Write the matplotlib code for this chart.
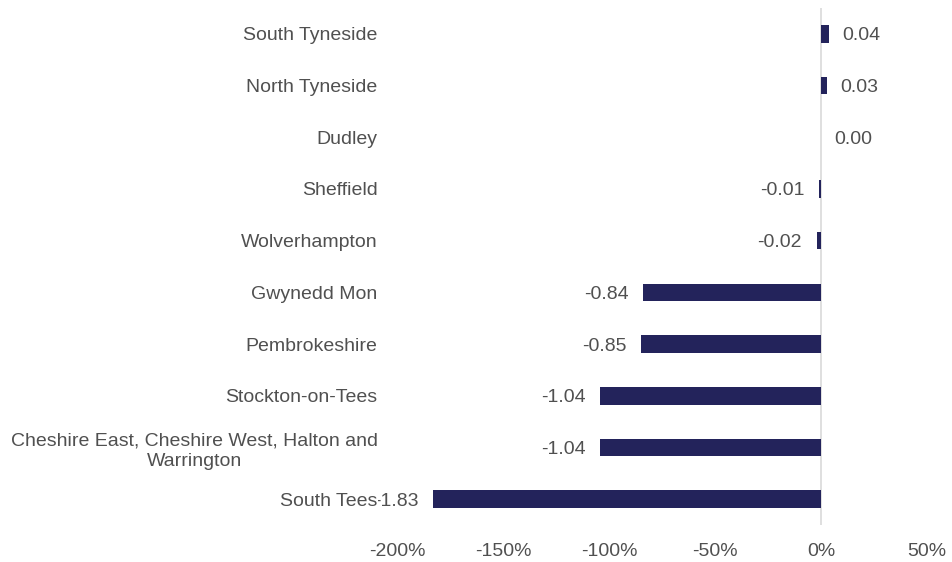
import matplotlib.pyplot as plt
from matplotlib.ticker import PercentFormatter

plt.rcParams['font.family'] = ['Liberation Sans', 'DejaVu Sans']
plt.rcParams['axes.unicode_minus'] = False

areas = [
    'South Tyneside',
    'North Tyneside',
    'Dudley',
    'Sheffield',
    'Wolverhampton',
    'Gwynedd Mon',
    'Pembrokeshire',
    'Stockton-on-Tees',
    'Cheshire East, Cheshire West, Halton and\nWarrington',
    'South Tees',
]
change = [0.04, 0.03, 0.00, -0.01, -0.02, -0.84, -0.85, -1.04, -1.04, -1.83]

bar_color = '#23235b'
text_color = '#505050'
fs = 14

fig = plt.figure(figsize=(9.53, 5.62), dpi=100)
ax = fig.add_axes([0.4166, 0.0658, 0.556, 0.92])

y = list(range(len(areas)))
ax.barh(y, change, height=0.34, color=bar_color, zorder=2)
ax.axvline(0, color='#d9d9d9', linewidth=1.2, zorder=1)

for yi, v in zip(y, change):
    if v < 0:
        ax.annotate(f'{v:.2f}', (v, yi), xytext=(-10.5, 0), textcoords='offset points',
                    ha='right', va='center_baseline', fontsize=fs, color=text_color, zorder=1)
    else:
        ax.annotate(f'{v:.2f}', (v, yi), xytext=(9.5, 0), textcoords='offset points',
                    ha='left', va='center_baseline', fontsize=fs, color=text_color, zorder=1)

ax.set_xlim(-2, 0.5)
ax.set_ylim(len(areas) - 0.5, -0.5)
ax.set_xticks([-2, -1.5, -1, -0.5, 0, 0.5])
ax.xaxis.set_major_formatter(PercentFormatter(xmax=1, decimals=0))
ax.set_yticks(y)
ax.set_yticklabels(areas, multialignment='center', linespacing=1.3)

ax.tick_params(axis='x', length=0, pad=13, labelsize=fs, labelcolor=text_color)
ax.tick_params(axis='y', length=0, pad=14, labelsize=fs, labelcolor=text_color)
for lbl in ax.get_yticklabels():
    lbl.set_bbox(dict(facecolor='white', edgecolor='none', pad=0.5))

for s in ax.spines.values():
    s.set_visible(False)

fig.savefig('out.png', dpi=100, facecolor='white')
